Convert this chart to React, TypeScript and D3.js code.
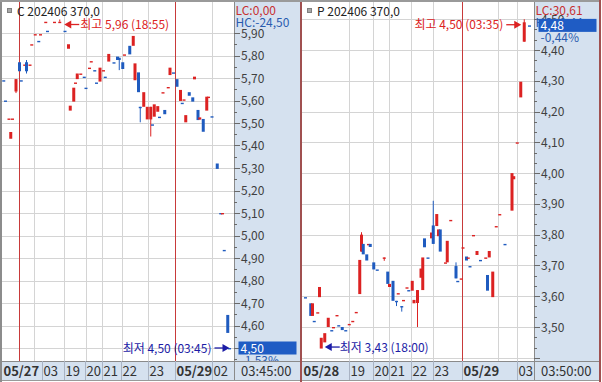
import React from "react";
import * as d3 from "d3";

// [slot, open, high, low, close, doji colour]
type Candle = [number, number, number, number, number, ("r" | "b")?];

const callTitle = "C 202406 370,0";
const putTitle = "P 202406 370,0";

const callCandles: Candle[] = [
  [1, 5.69, 5.69, 5.69, 5.69, "b"],
  [2, 5.6, 5.6, 5.6, 5.6, "b"],
  [4, 5.52, 5.52, 5.52, 5.52, "r"],
  [5, 5.43, 5.46, 5.43, 5.46],
  [6, 5.52, 5.52, 5.52, 5.52, "r"],
  [8, 5.64, 5.695, 5.633, 5.695],
  [10, 5.77, 5.77, 5.73, 5.73],
  [11, 5.69, 5.69, 5.69, 5.69, "b"],
  [13, 5.76, 5.76, 5.76, 5.76, "r"],
  [14, 5.77, 5.78, 5.72, 5.73],
  [16, 5.76, 5.76, 5.76, 5.76, "r"],
  [17, 5.85, 5.85, 5.85, 5.85, "r"],
  [19, 5.895, 5.895, 5.895, 5.895, "r"],
  [21, 5.865, 5.865, 5.865, 5.865, "b"],
  [22, 5.895, 5.895, 5.895, 5.895, "r"],
  [25, 5.95, 5.95, 5.95, 5.95, "r"],
  [26, 5.91, 5.91, 5.91, 5.91, "b"],
  [30, 5.95, 5.95, 5.95, 5.95, "r"],
  [33, 5.95, 5.96, 5.95, 5.95, "r"],
  [36, 5.91, 5.91, 5.91, 5.91, "b"],
  [38, 5.83, 5.85, 5.83, 5.85],
  [39, 5.555, 5.577, 5.555, 5.577],
  [41, 5.595, 5.657, 5.595, 5.657],
  [42, 5.68, 5.68, 5.68, 5.68, "r"],
  [43, 5.695, 5.72, 5.695, 5.72],
  [45, 5.72, 5.72, 5.72, 5.72, "r"],
  [47, 5.706, 5.706, 5.706, 5.706, "b"],
  [48, 5.657, 5.657, 5.657, 5.657, "b"],
  [50, 5.746, 5.746, 5.746, 5.746, "r"],
  [51, 5.775, 5.775, 5.775, 5.775, "r"],
  [53, 5.735, 5.735, 5.735, 5.735, "b"],
  [54, 5.68, 5.68, 5.68, 5.68, "b"],
  [56, 5.684, 5.746, 5.684, 5.746],
  [58, 5.735, 5.735, 5.735, 5.735, "r"],
  [59, 5.706, 5.706, 5.706, 5.706, "b"],
  [61, 5.773, 5.807, 5.773, 5.807],
  [64, 5.77, 5.77, 5.77, 5.77, "b"],
  [66, 5.795, 5.795, 5.78, 5.78],
  [67, 5.79, 5.79, 5.735, 5.78],
  [69, 5.77, 5.77, 5.74, 5.74],
  [70, 5.805, 5.805, 5.805, 5.805, "r"],
  [73, 5.843, 5.843, 5.805, 5.805],
  [75, 5.843, 5.887, 5.843, 5.887],
  [76, 5.69, 5.765, 5.69, 5.765],
  [78, 5.725, 5.725, 5.637, 5.637],
  [79, 5.572, 5.572, 5.503, 5.572, "b"],
  [81, 5.572, 5.637, 5.572, 5.637],
  [83, 5.516, 5.572, 5.516, 5.572],
  [85, 5.516, 5.572, 5.44, 5.572],
  [86, 5.494, 5.494, 5.494, 5.494, "b"],
  [87, 5.528, 5.583, 5.528, 5.583],
  [89, 5.55, 5.575, 5.55, 5.575],
  [90, 5.528, 5.528, 5.528, 5.528, "b"],
  [92, 5.637, 5.637, 5.637, 5.637, "r"],
  [93, 5.558, 5.558, 5.539, 5.539],
  [95, 5.66, 5.66, 5.66, 5.66, "r"],
  [96, 5.713, 5.746, 5.713, 5.746],
  [98, 5.725, 5.725, 5.725, 5.725, "b"],
  [100, 5.695, 5.695, 5.661, 5.661],
  [102, 5.598, 5.647, 5.598, 5.647],
  [103, 5.59, 5.59, 5.59, 5.59, "b"],
  [104, 5.605, 5.605, 5.605, 5.605, "r"],
  [105, 5.503, 5.535, 5.503, 5.535],
  [107, 5.637, 5.637, 5.621, 5.621],
  [109, 5.614, 5.614, 5.595, 5.595],
  [110, 5.694, 5.706, 5.694, 5.706],
  [112, 5.558, 5.558, 5.513, 5.513],
  [113, 5.515, 5.525, 5.515, 5.525],
  [115, 5.518, 5.518, 5.461, 5.461],
  [117, 5.555, 5.617, 5.555, 5.617],
  [118, 5.617, 5.617, 5.617, 5.617, "r"],
  [120, 5.53, 5.53, 5.53, 5.53, "b"],
  [123, 5.32, 5.32, 5.296, 5.296],
  [125, 5.1, 5.1, 5.1, 5.1, "b"],
  [126, 5.1, 5.1, 5.1, 5.1, "r"],
  [127, 4.936, 4.936, 4.936, 4.936, "b"],
  [129, 4.647, 4.647, 4.567, 4.567],
  [130, 4.5, 4.5, 4.5, 4.5, "b"],
];

const putCandles: Candle[] = [
  [2, 3.597, 3.597, 3.597, 3.597, "b"],
  [5, 3.577, 3.577, 3.536, 3.536],
  [6, 3.536, 3.577, 3.536, 3.577],
  [7, 3.52, 3.52, 3.52, 3.52, "b"],
  [9, 3.548, 3.548, 3.548, 3.548, "r"],
  [10, 3.597, 3.63, 3.597, 3.63],
  [11, 3.43, 3.465, 3.43, 3.465],
  [13, 3.45, 3.48, 3.45, 3.48],
  [15, 3.5, 3.53, 3.5, 3.53],
  [17, 3.49, 3.49, 3.49, 3.49, "b"],
  [18, 3.5, 3.5, 3.5, 3.5, "r"],
  [20, 3.539, 3.539, 3.539, 3.539, "r"],
  [21, 3.506, 3.506, 3.506, 3.506, "b"],
  [23, 3.5, 3.5, 3.49, 3.49],
  [25, 3.49, 3.49, 3.49, 3.49, "b"],
  [27, 3.51, 3.51, 3.51, 3.51, "r"],
  [29, 3.52, 3.52, 3.52, 3.52, "r"],
  [31, 3.549, 3.549, 3.549, 3.549, "r"],
  [33, 3.607, 3.718, 3.607, 3.718],
  [34, 3.745, 3.808, 3.745, 3.8],
  [35, 3.77, 3.77, 3.736, 3.736],
  [37, 3.736, 3.736, 3.716, 3.716],
  [38, 3.77, 3.77, 3.77, 3.77, "r"],
  [39, 3.77, 3.77, 3.76, 3.76],
  [41, 3.71, 3.71, 3.687, 3.687],
  [43, 3.687, 3.687, 3.687, 3.687, "b"],
  [47, 3.726, 3.726, 3.715, 3.726, "r"],
  [49, 3.68, 3.68, 3.64, 3.64],
  [50, 3.63, 3.64, 3.63, 3.64],
  [52, 3.65, 3.65, 3.585, 3.585],
  [54, 3.585, 3.585, 3.568, 3.585, "b"],
  [55, 3.61, 3.61, 3.61, 3.61, "r"],
  [57, 3.568, 3.568, 3.55, 3.568, "b"],
  [58, 3.588, 3.588, 3.588, 3.588, "r"],
  [60, 3.629, 3.629, 3.629, 3.629, "r"],
  [61, 3.62, 3.62, 3.62, 3.62, "b"],
  [63, 3.618, 3.65, 3.618, 3.65],
  [64, 3.577, 3.588, 3.577, 3.588],
  [66, 3.578, 3.62, 3.5, 3.62],
  [68, 3.66, 3.69, 3.66, 3.69],
  [69, 3.62, 3.726, 3.62, 3.726],
  [70, 3.788, 3.788, 3.759, 3.759],
  [72, 3.726, 3.726, 3.726, 3.726, "b"],
  [74, 3.788, 3.807, 3.788, 3.807],
  [75, 3.83, 3.91, 3.77, 3.77],
  [77, 3.828, 3.867, 3.828, 3.867],
  [78, 3.795, 3.817, 3.795, 3.817],
  [79, 3.817, 3.817, 3.745, 3.745],
  [82, 3.71, 3.71, 3.71, 3.71, "r"],
  [83, 3.71, 3.78, 3.71, 3.78],
  [85, 3.848, 3.848, 3.848, 3.848, "r"],
  [88, 3.698, 3.71, 3.658, 3.658],
  [89, 3.65, 3.65, 3.65, 3.65, "b"],
  [91, 3.658, 3.658, 3.658, 3.658, "r"],
  [92, 3.759, 3.759, 3.759, 3.759, "r"],
  [94, 3.729, 3.729, 3.716, 3.716],
  [95, 3.726, 3.726, 3.726, 3.726, "r"],
  [96, 3.698, 3.698, 3.698, 3.698, "b"],
  [98, 3.799, 3.799, 3.799, 3.799, "r"],
  [100, 3.734, 3.747, 3.734, 3.747],
  [102, 3.718, 3.718, 3.718, 3.718, "b"],
  [105, 3.726, 3.726, 3.726, 3.726, "r"],
  [106, 3.669, 3.669, 3.618, 3.618],
  [107, 3.726, 3.747, 3.726, 3.747],
  [109, 3.597, 3.68, 3.597, 3.68],
  [111, 3.828, 3.828, 3.828, 3.828, "r"],
  [113, 3.867, 3.867, 3.867, 3.867, "r"],
  [116, 3.77, 3.77, 3.77, 3.77, "b"],
  [120, 3.878, 4.0, 3.878, 4.0],
  [121, 3.98, 3.99, 3.98, 3.99],
  [123, 4.1, 4.1, 4.1, 4.1, "r"],
  [125, 4.246, 4.297, 4.246, 4.297],
  [127, 4.427, 4.5, 4.427, 4.49],
  [130, 4.48, 4.48, 4.48, 4.48, "b"],
];

const callTicks = [5.9, 5.8, 5.7, 5.6, 5.5, 5.4, 5.3, 5.2, 5.1, 5.0, 4.9, 4.8, 4.7, 4.6, 4.5];
const putTicks = [4.5, 4.4, 4.3, 4.2, 4.1, 4.0, 3.9, 3.8, 3.7, 3.6, 3.5, 3.4];

type TimeLabel = { t: number; label: string; bold?: boolean };
const callTimeLabels: TimeLabel[] = [
  { t: 0, label: "05/27", bold: true },
  { t: 22.86, label: "03" },
  { t: 35.43, label: "19" },
  { t: 47.43, label: "20" },
  { t: 57.14, label: "21" },
  { t: 68, label: "22" },
  { t: 83.43, label: "23" },
  { t: 98.86, label: "05/29", bold: true },
  { t: 120, label: "02" },
];
const putTimeLabels: TimeLabel[] = [
  { t: 0, label: "05/28", bold: true },
  { t: 26.86, label: "19" },
  { t: 40.57, label: "20" },
  { t: 49.71, label: "21" },
  { t: 62.29, label: "22" },
  { t: 74.86, label: "23" },
  { t: 91.43, label: "05/29", bold: true },
  { t: 122.86, label: "03" },
];
const callGridSlots = [18.3, 35.43, 48, 57.14, 68.57, 83.43, 120];
const callDaySlots = [9.43, 98.86];
const putGridSlots = [26.86, 40.57, 49.71, 62.29, 74.86, 112, 122.86];
const putDaySlots = [91.43];

const callStats = { lc: "0,00", hc: "-24,50", last: 4.5, pct: "-1,53%", clock: "03:45:00" };
const putStats = { lc: "30,61", hc: "-0,44", last: 4.48, pct: "-0,44%", clock: "03:50:00" };
const callHigh = { t: 33, value: 5.96, time: "18:55" };
const callLow = { t: 130, value: 4.5, time: "03:45" };
const putHigh = { t: 127, value: 4.5, time: "03:35" };
const putLow = { t: 11, value: 3.43, time: "18:00" };

const RED = "#dc2222";
const BLUE = "#1f5bbf";
const NAVY = "#1c1ca6";
const GRID = "#d4d4d4";
const DAY = "#c83a3a";
const AXBG = "#d5e1ef";
const FONT = "'Noto Sans CJK KR', 'Noto Sans', sans-serif";

const fmt = (v: number) => d3.format(".2f")(v).replace(".", ",");

type PanelProps = {
  left: number;
  right: number;
  plotRight: number;
  title: string;
  candles: Candle[];
  ticks: number[];
  yDomain: [number, number];
  yRange: [number, number];
  minorDiv: number;
  timeLabels: TimeLabel[];
  gridSlots: number[];
  daySlots: number[];
  stats: typeof callStats;
  high: { t: number; value: number; time: string };
  low: { t: number; value: number; time: string };
  highDir: "left" | "right";
  lowDir: "left" | "right";
  highDx: number;
  highDy: number;
  lowDx: number;
  lowDy: number;
  selected?: boolean;
  id: string;
};

function Arrow({ x, y, dir, color }: { x: number; y: number; dir: "left" | "right"; color: string }) {
  const s = dir === "left" ? 1 : -1;
  return (
    <g>
      <line x1={x + s * 5} x2={x + s * 15} y1={y} y2={y} stroke={color} strokeWidth={1.3} />
      <path d={`M${x},${y} L${x + s * 7},${y - 4} L${x + s * 7},${y + 4} Z`} fill={color} />
    </g>
  );
}

function Panel(p: PanelProps) {
  const top = 2;
  const bottom = 361;
  const plotLeft = p.left + 2;
  const x = d3.scaleLinear().domain([0, 132]).range([plotLeft, plotLeft + 231]);
  const y = d3.scaleLinear().domain(p.yDomain).range(p.yRange);
  const step = (p.ticks[0] - p.ticks[1]) / p.minorDiv;
  const minors: number[] = [];
  p.ticks.forEach((tk) => {
    for (let k = 1; k < p.minorDiv; k++) minors.push(tk - k * step);
  });
  const inPlot = (v: number) => y(v) > top + 2 && y(v) < bottom - 1;
  const labelOk = (v: number) => y(v) > top + 2 && y(v) < bottom - 6;

  const hx = x(p.high.t) + p.highDx;
  const hy = y(p.high.value) + p.highDy;
  const lx = x(p.low.t) + p.lowDx;
  const ly = y(p.low.value) + p.lowDy;
  const lastY = y(p.stats.last);

  return (
    <g fontFamily={FONT} fontSize={12}>
      <defs>
        <clipPath id={`clip-${p.id}`}>
          <rect x={plotLeft} y={top} width={p.plotRight - plotLeft} height={bottom - top} />
        </clipPath>
      </defs>
      <rect x={p.left} y={0} width={p.right - p.left} height={382} fill="#fff" />
      {/* grid */}
      <g clipPath={`url(#clip-${p.id})`}>
        {p.ticks.map((tk) => (
          <line key={tk} x1={plotLeft} x2={p.plotRight} y1={Math.round(y(tk)) + 0.5} y2={Math.round(y(tk)) + 0.5} stroke={GRID} />
        ))}
        {p.gridSlots.map((s) => (
          <line key={s} x1={Math.round(x(s)) + 0.5} x2={Math.round(x(s)) + 0.5} y1={top} y2={bottom} stroke={GRID} />
        ))}
        {p.daySlots.map((s) => (
          <line key={s} x1={Math.round(x(s)) + 0.5} x2={Math.round(x(s)) + 0.5} y1={top} y2={bottom} stroke={DAY} />
        ))}
        {p.candles.map(([t, o, h, l, c, dc], i) => {
          const up = c > o ? true : c < o ? false : dc !== "b";
          const col = up ? RED : BLUE;
          const cx = x(t);
          const yT = y(Math.max(o, c));
          const yB = y(Math.min(o, c));
          const bh = Math.max(1.4, yB - yT);
          const hasWick = h > Math.max(o, c) || l < Math.min(o, c);
          return (
            <g key={i}>
              {hasWick && <line x1={cx} x2={cx} y1={y(h)} y2={y(l)} stroke={col} strokeWidth={1} />}
              <rect x={cx - 1.5} y={yT} width={3} height={bh} fill={col} />
            </g>
          );
        })}
      </g>
      {/* title */}
      <rect x={p.left + 7.5} y={8.5} width={4} height={4} fill="#a8a8a8" stroke="#808080" />
      <text x={p.left + 17} y={16} fill="#222">{p.title}</text>

      {/* high / low annotations */}
      <g>
        <Arrow x={hx} y={hy} dir={p.highDir} color={RED} />
        <text
          x={p.highDir === "left" ? hx + 16 : hx - 18}
          y={hy + 4.5}
          fill={RED}
          textAnchor={p.highDir === "left" ? "start" : "end"}
        >
          {`최고 ${fmt(p.high.value)} (${p.high.time})`}
        </text>
        <Arrow x={lx} y={ly} dir={p.lowDir} color={NAVY} />
        <text
          x={p.lowDir === "left" ? lx + 15 : lx - 18}
          y={ly + 4.5}
          fill={NAVY}
          textAnchor={p.lowDir === "left" ? "start" : "end"}
        >
          {`최저 ${fmt(p.low.value)} (${p.low.time})`}
        </text>
      </g>

      {/* price axis */}
      <rect x={p.plotRight} y={top} width={p.right - p.plotRight} height={bottom - top} fill={AXBG} />
      <line x1={p.plotRight + 0.5} x2={p.plotRight + 0.5} y1={top} y2={bottom} stroke="#8a8a8a" />
      {minors.filter(inPlot).map((m, i) => (
        <line key={i} x1={p.plotRight} x2={p.plotRight + 3} y1={Math.round(y(m)) + 0.5} y2={Math.round(y(m)) + 0.5} stroke="#6a6a6a" />
      ))}
      {p.ticks.filter(inPlot).map((tk) => (
        <g key={tk}>
          <line x1={p.plotRight} x2={p.plotRight + 6} y1={Math.round(y(tk)) + 0.5} y2={Math.round(y(tk)) + 0.5} stroke="#6a6a6a" />
          {labelOk(tk) && <text x={p.plotRight + 7} y={y(tk) + 4.5} fill="#404040">{fmt(tk)}</text>}
        </g>
      ))}
      <text x={p.plotRight + 1.5} y={15} fill="#c83030">{`LC:${p.stats.lc}`}</text>
      <text x={p.plotRight + 1.5} y={27} fill="#2a5cb0">{`HC:${p.stats.hc}`}</text>
      <rect x={p.plotRight + 4.5} y={lastY - 6.5} width={58} height={13} fill="#1f5cc4" />
      <text x={p.plotRight + 6.5} y={lastY + 5} fill="#fff">{fmt(p.stats.last)}</text>
      <text x={p.plotRight + 6.5} y={lastY + 17} fill="#2a5cb0">{p.stats.pct}</text>

      {/* time axis */}
      <rect x={p.left} y={bottom} width={p.right - p.left} height={19} fill={AXBG} />
      <line x1={p.left} x2={p.right} y1={bottom + 0.5} y2={bottom + 0.5} stroke="#8a8a8a" />
      {p.timeLabels.map((tl, i) => (
        <g key={i}>
          {i > 0 && <line x1={Math.round(x(tl.t)) + 0.5} x2={Math.round(x(tl.t)) + 0.5} y1={bottom} y2={bottom + 19} stroke="#a9b3c3" />}
          <text
            x={(i === 0 ? plotLeft : x(tl.t)) + 1.5}
            y={bottom + 14.5}
            fill="#333"
            fontWeight={tl.bold ? 700 : 400}
            fontSize={13}
          >
            {tl.label}
          </text>
        </g>
      ))}
      <line x1={p.plotRight + 0.5} x2={p.plotRight + 0.5} y1={bottom} y2={bottom + 19} stroke="#8a8a8a" />
      <text x={p.plotRight + 7} y={bottom + 14.5} fill="#333" fontSize={13}>{p.stats.clock}</text>
      <line x1={p.left} x2={p.right} y1={380.5} y2={380.5} stroke="#9a9a9a" />

      {/* frame */}
      <line x1={p.left + 1} x2={p.left + 1} y1={0} y2={382} stroke={p.selected ? "#a05050" : "#8c8c8c"} strokeWidth={2} />
      <line x1={p.left} x2={p.right} y1={1} y2={1} stroke="#9a9a9a" strokeWidth={2} />
      {p.selected && <line x1={p.right - 1} x2={p.right - 1} y1={0} y2={382} stroke="#a05050" strokeWidth={2} />}
    </g>
  );
}

export default function App() {
  return (
    <svg
      width={602}
      height={382}
      viewBox="0 0 602 382"
      style={{ position: "absolute", left: 0, top: 0, display: "block" }}
    >
      <rect width={602} height={382} fill="#fff" />
      <Panel
        id="call"
        left={0}
        right={300}
        plotRight={234}
        title={callTitle}
        candles={callCandles}
        ticks={callTicks}
        yDomain={[5.9, 4.5]}
        yRange={[33, 348]}
        minorDiv={2}
        timeLabels={callTimeLabels}
        gridSlots={callGridSlots}
        daySlots={callDaySlots}
        stats={callStats}
        high={callHigh}
        low={callLow}
        highDir="left"
        lowDir="right"
        highDx={4.5}
        highDy={5}
        lowDx={0}
        lowDy={0}
      />
      <Panel
        id="put"
        left={300}
        right={601}
        plotRight={534}
        title={putTitle}
        candles={putCandles}
        ticks={putTicks}
        yDomain={[4.4, 3.5]}
        yRange={[50, 327]}
        minorDiv={3}
        timeLabels={putTimeLabels}
        gridSlots={putGridSlots}
        daySlots={putDaySlots}
        stats={putStats}
        high={putHigh}
        low={putLow}
        highDir="right"
        lowDir="left"
        highDx={-3}
        highDy={5.5}
        lowDx={3.5}
        lowDy={-1.5}
        selected
      />
    </svg>
  );
}
